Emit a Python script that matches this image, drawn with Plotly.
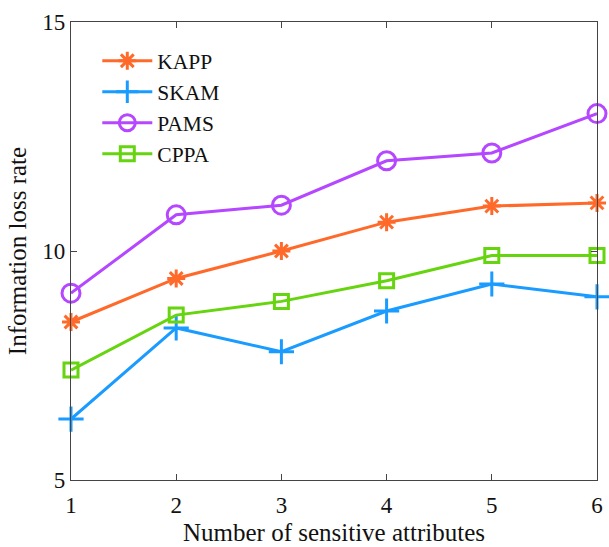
import plotly.graph_objects as go

# Number of sensitive attributes
attributes = [1, 2, 3, 4, 5, 6]

# Information loss rate per method
kapp = [8.45, 9.4, 10.0, 10.63, 10.98, 11.05]
skam = [6.33, 8.32, 7.8, 8.69, 9.28, 9.0]
pams = [9.08, 10.79, 11.0, 11.97, 12.14, 13.0]
cppa = [7.4, 8.6, 8.9, 9.35, 9.9, 9.9]

x_ticks = [1, 2, 3, 4, 5, 6]
y_ticks = [5, 10, 15]

series = [
    ("KAPP", kapp, "#FF6A2B", "asterisk-open", 15),
    ("SKAM", skam, "#1A9BFF", "cross-thin-open", 18),
    ("PAMS", pams, "#B447FF", "circle-open", 18),
    ("CPPA", cppa, "#66D40E", "square-open", 14),
]

fig = go.Figure()
for name, vals, color, symbol, size in series:
    fig.add_trace(go.Scatter(
        x=attributes, y=vals, name=name, mode="lines+markers",
        line=dict(color=color, width=3),
        marker=dict(symbol=symbol, size=size, color=color,
                    line=dict(color=color, width=3)),
        cliponaxis=False,
    ))

font_family = "Liberation Serif, Times New Roman, serif"

axis_common = dict(
    showline=True, linecolor="#444444", linewidth=1.2, mirror="ticks",
    ticks="inside", ticklen=6, tickcolor="#444444", showgrid=False,
    zeroline=False, tickfont=dict(family=font_family, size=23, color="#111111"),
)

fig.update_layout(
    width=609, height=547,
    margin=dict(l=71, r=6, t=22, b=67),
    paper_bgcolor="white", plot_bgcolor="white",
    font=dict(family=font_family, color="#111111"),
    showlegend=True,
    legend=dict(
        x=0.05, y=0.96, xanchor="left", yanchor="top",
        bgcolor="rgba(0,0,0,0)", font=dict(family=font_family, size=21.5),
        itemwidth=50, tracegroupgap=0,
    ),
    xaxis=dict(
        range=[1, 6], tickvals=x_ticks, ticklabelstandoff=4,
        title=dict(text="Number of sensitive attributes", standoff=6,
                   font=dict(family=font_family, size=25)),
        **axis_common,
    ),
    yaxis=dict(
        range=[5, 15], tickvals=y_ticks,
        title=dict(text="Information loss rate", standoff=8,
                   font=dict(family=font_family, size=25)),
        **axis_common,
    ),
)

fig.write_html("out.html")
